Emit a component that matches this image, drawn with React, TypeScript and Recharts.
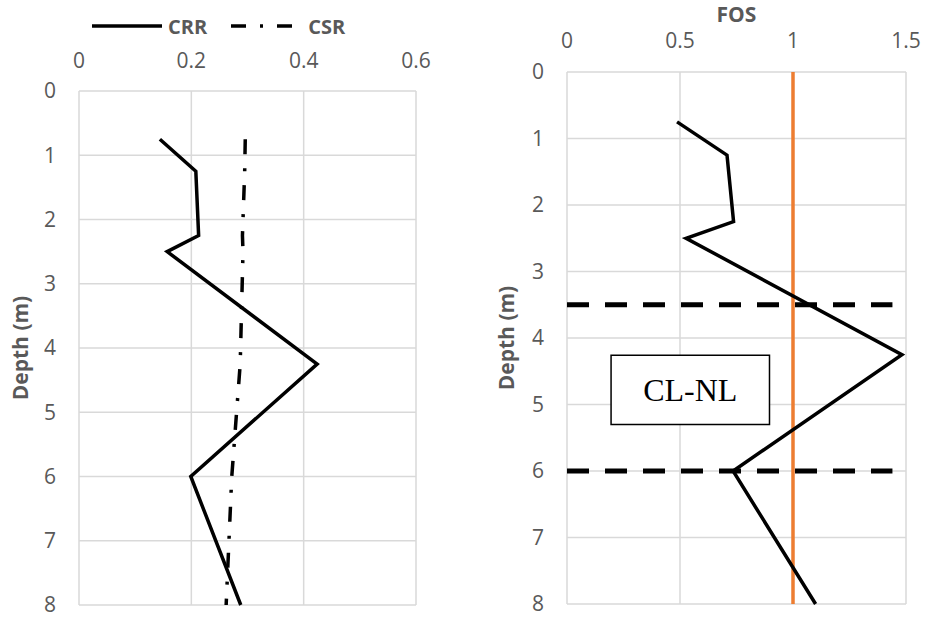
import {
  CartesianGrid,
  Legend,
  Line,
  LineChart,
  ReferenceArea,
  ReferenceLine,
  XAxis,
  YAxis,
} from 'recharts'

const depths = [0.75, 1.25, 2.25, 2.5, 4.25, 6, 8]
const crrValues = [0.144, 0.208, 0.213, 0.157, 0.424, 0.199, 0.288]
const csrValues = [0.296, 0.295, 0.291, 0.292, 0.287, 0.272, 0.262]
const fosValues = [0.487, 0.708, 0.737, 0.527, 1.482, 0.735, 1.1]

const depthTicks = [0, 1, 2, 3, 4, 5, 6, 7, 8]
const ratioTicks = [0, 0.2, 0.4, 0.6]
const fosTicks = [0, 0.5, 1, 1.5]

// layer boundaries and the non-liquefiable clay annotation
const layerBounds = [3.5, 6]
const boundaryFosEnd = 1.44
const fosLimit = 1
const layerLabel = 'CL-NL'
const layerFos = [0.195, 0.896]
const layerDepth = [4.26, 5.3]

const profile = depths.map((depth, i) => ({
  depth,
  crr: crrValues[i],
  csr: csrValues[i],
  fos: fosValues[i],
}))

const font = '"Open Sans", sans-serif'
const grey = '#595959'
const gridColor = '#d9d9d9'
const orange = '#ed7d31'
const csrDash = '15 14 3 14'

const tickStyle = { fill: grey, fontSize: 21, fontFamily: font }
const titleStyle = { fill: grey, fontSize: 21, fontWeight: 700, fontFamily: font }

function RatioLegend() {
  return (
    <div
      style={{
        height: 30,
        display: 'flex',
        alignItems: 'center',
        paddingLeft: 92,
        fontFamily: font,
        fontWeight: 700,
        fontSize: 20,
        color: grey,
      }}
    >
      <svg width={70} height={30}>
        <line x1={0} x2={70} y1={15} y2={15} stroke="#000" strokeWidth={3.5} />
      </svg>
      <span style={{ marginLeft: 6 }}>CRR</span>
      <svg width={62} height={30} style={{ marginLeft: 24 }}>
        <line x1={0} x2={62} y1={15} y2={15} stroke="#000" strokeWidth={3.5} strokeDasharray={csrDash} />
      </svg>
      <span style={{ marginLeft: 15 }}>CSR</span>
    </div>
  )
}

// depth runs downwards: in vertical layout the y axis already starts at the top
function RatioChart() {
  return (
    <LineChart
      width={460}
      height={617}
      data={profile}
      layout="vertical"
      margin={{ top: 11, right: 44, bottom: 12, left: 0 }}
    >
      <Legend
        verticalAlign="top"
        content={() => <RatioLegend />}
        wrapperStyle={{ top: 11, left: 0, width: 460 }}
      />
      <CartesianGrid stroke={gridColor} strokeWidth={1.5} />
      <XAxis
        type="number"
        orientation="top"
        domain={[0, 0.6]}
        ticks={ratioTicks}
        axisLine={false}
        tickLine={false}
        tickSize={0}
        tickMargin={23}
        height={50}
        tick={tickStyle}
      />
      <YAxis
        type="number"
        dataKey="depth"
        domain={[0, 8]}
        ticks={depthTicks}
        axisLine={false}
        tickLine={false}
        tickSize={0}
        tickMargin={23}
        width={79}
        tick={tickStyle}
        label={{
          value: 'Depth (m)',
          angle: -90,
          position: 'insideLeft',
          offset: 21,
          style: { ...titleStyle, textAnchor: 'middle' },
        }}
      />
      <Line
        dataKey="crr"
        type="linear"
        stroke="#000"
        strokeWidth={3.5}
        dot={false}
        isAnimationActive={false}
      />
      <Line
        dataKey="csr"
        type="linear"
        stroke="#000"
        strokeWidth={3.5}
        strokeDasharray={csrDash}
        dot={false}
        isAnimationActive={false}
      />
    </LineChart>
  )
}

function FosChart() {
  return (
    <LineChart
      width={465}
      height={617}
      data={profile}
      layout="vertical"
      margin={{ top: 22, right: 19, bottom: 13, left: 0 }}
    >
      <CartesianGrid stroke={gridColor} strokeWidth={1.5} />
      <XAxis
        type="number"
        orientation="top"
        domain={[0, 1.5]}
        ticks={fosTicks}
        axisLine={false}
        tickLine={false}
        tickSize={0}
        tickMargin={24}
        height={50}
        tick={tickStyle}
        label={{ value: 'FOS', position: 'top', offset: 0, style: titleStyle }}
      />
      <YAxis
        type="number"
        dataKey="depth"
        domain={[0, 8]}
        ticks={depthTicks}
        axisLine={false}
        tickLine={false}
        tickSize={0}
        tickMargin={23}
        width={107}
        tick={tickStyle}
        label={{
          value: 'Depth (m)',
          angle: -90,
          position: 'insideLeft',
          offset: 47,
          style: { ...titleStyle, textAnchor: 'middle' },
        }}
      />
      <ReferenceArea
        x1={layerFos[0]}
        x2={layerFos[1]}
        y1={layerDepth[0]}
        y2={layerDepth[1]}
        fill="#fff"
        fillOpacity={1}
        stroke="#000"
        strokeWidth={1.5}
        label={{
          value: layerLabel,
          position: 'center',
          fill: '#000',
          fontSize: 32,
          fontFamily: '"Liberation Serif", "Times New Roman", serif',
        }}
      />
      <ReferenceLine x={fosLimit} stroke={orange} strokeWidth={3.5} />
      {layerBounds.map((depth) => (
        <ReferenceLine
          key={depth}
          segment={[
            { x: 0, y: depth },
            { x: boundaryFosEnd, y: depth },
          ]}
          stroke="#000"
          strokeWidth={5}
          strokeDasharray="22 16"
        />
      ))}
      <Line
        dataKey="fos"
        type="linear"
        stroke="#000"
        strokeWidth={3.5}
        dot={false}
        isAnimationActive={false}
      />
    </LineChart>
  )
}

export default function App() {
  return (
    <div style={{ position: 'absolute', left: 0, top: 0, width: 925, height: 617, background: '#fff' }}>
      <div style={{ position: 'absolute', left: 0, top: 0 }}>
        <RatioChart />
      </div>
      <div style={{ position: 'absolute', left: 460, top: 0 }}>
        <FosChart />
      </div>
    </div>
  )
}
